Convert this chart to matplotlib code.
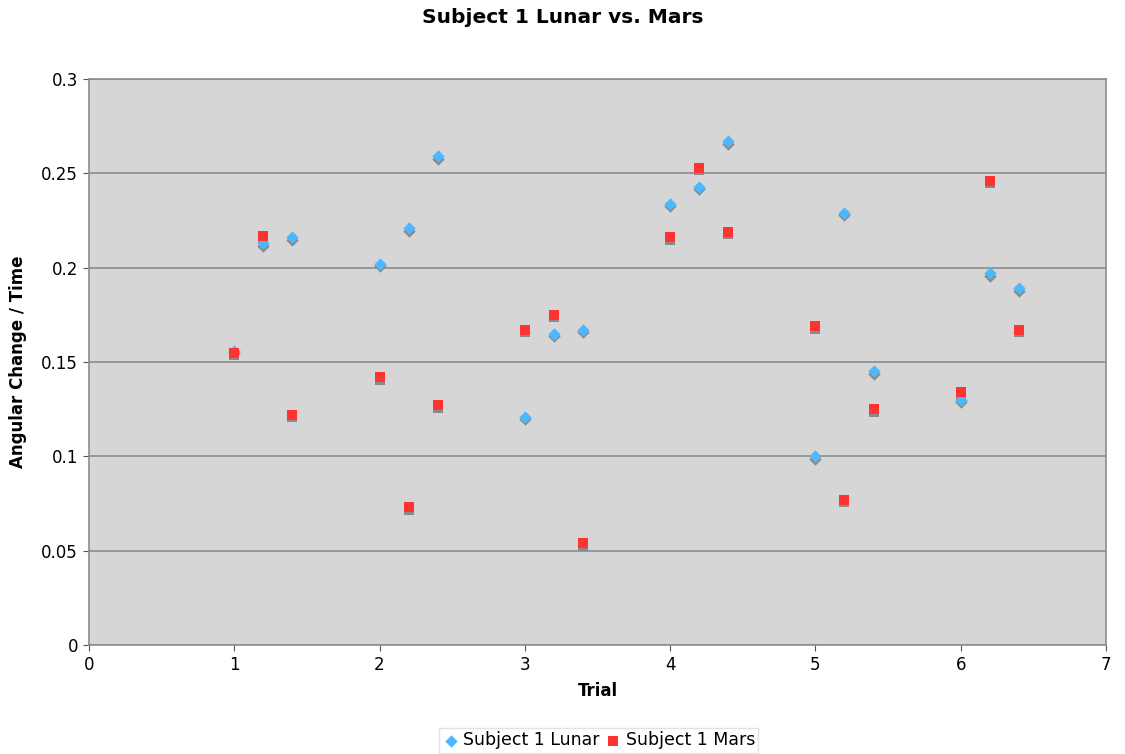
import matplotlib
matplotlib.use('Agg')
import matplotlib.pyplot as plt
import matplotlib.transforms as mtransforms

# trial positions and values
trial = [1.0, 1.2, 1.4, 2.0, 2.2, 2.4, 3.0, 3.2, 3.4,
         4.0, 4.2, 4.4, 5.0, 5.2, 5.4, 6.0, 6.2, 6.4]
lunar = [0.156, 0.213, 0.216, 0.202, 0.221, 0.259, 0.121, 0.165, 0.167,
         0.234, 0.243, 0.267, 0.100, 0.229, 0.145, 0.130, 0.197, 0.189]
mars = [0.155, 0.217, 0.122, 0.142, 0.073, 0.127, 0.167, 0.175, 0.054,
        0.216, 0.253, 0.219, 0.169, 0.077, 0.125, 0.134, 0.246, 0.167]

xticks = [0, 1, 2, 3, 4, 5, 6, 7]
yticks = [0, 0.05, 0.1, 0.15, 0.2, 0.25, 0.3]
ytick_labels = ['0', '0.05', '0.1', '0.15', '0.2', '0.25', '0.3']

plt.rcParams['font.family'] = ['DejaVu Sans']

fig = plt.figure(figsize=(11.25, 7.54), dpi=100)
ax = fig.add_axes([0.0791, 0.1446, 0.904, 0.7506])
ax.set_facecolor('#d6d6d6')

# drop shadows under the markers, like the old Excel charts
shadow = mtransforms.offset_copy(ax.transData, fig=fig, x=0, y=-2.5, units='dots')
ax.scatter(trial, lunar, marker='D', s=40, color='#8a8a8a', linewidths=0,
           transform=shadow, zorder=2)
ax.scatter(trial, mars, marker='s', s=58, color='#8a8a8a', linewidths=0,
           transform=shadow, zorder=2)

ax.scatter(trial, lunar, marker='D', s=40, color='#4db8ff', linewidths=0,
           zorder=3, label='Subject 1 Lunar')
ax.scatter(trial, mars, marker='s', s=58, color='#ff3333', linewidths=0,
           zorder=4, label='Subject 1 Mars')

ax.set_xlim(0, 7)
ax.set_ylim(0, 0.3)
ax.set_xticks(xticks)
ax.set_yticks(yticks)
ax.set_yticklabels(ytick_labels)
ax.tick_params(labelsize=12, length=4, color='#555555', pad=4)
ax.yaxis.grid(True, color='#8c8c8c', linewidth=1.2)
ax.set_axisbelow(True)
for sp in ax.spines.values():
    sp.set_color('#8c8c8c')
    sp.set_linewidth(1.2)

ax.set_xlabel('Trial', fontsize=12, fontweight='bold', labelpad=6)
ax.set_ylabel('Angular Change / Time', fontsize=12, fontweight='bold', labelpad=10)
fig.text(0.5, 0.977, 'Subject 1 Lunar vs. Mars', ha='center', va='center',
         fontsize=14.5, fontweight='bold')

leg = fig.legend(loc='center', bbox_to_anchor=(0.532, 0.018), ncol=2,
                 fontsize=12.5, frameon=True, fancybox=False, handletextpad=0.2,
                 columnspacing=0.3, borderpad=0.2, markerscale=1.0,
                 handlelength=1.0)
leg.get_frame().set_edgecolor('#dddddd')
leg.get_frame().set_linewidth(1)

fig.savefig('out.png', dpi=100)
